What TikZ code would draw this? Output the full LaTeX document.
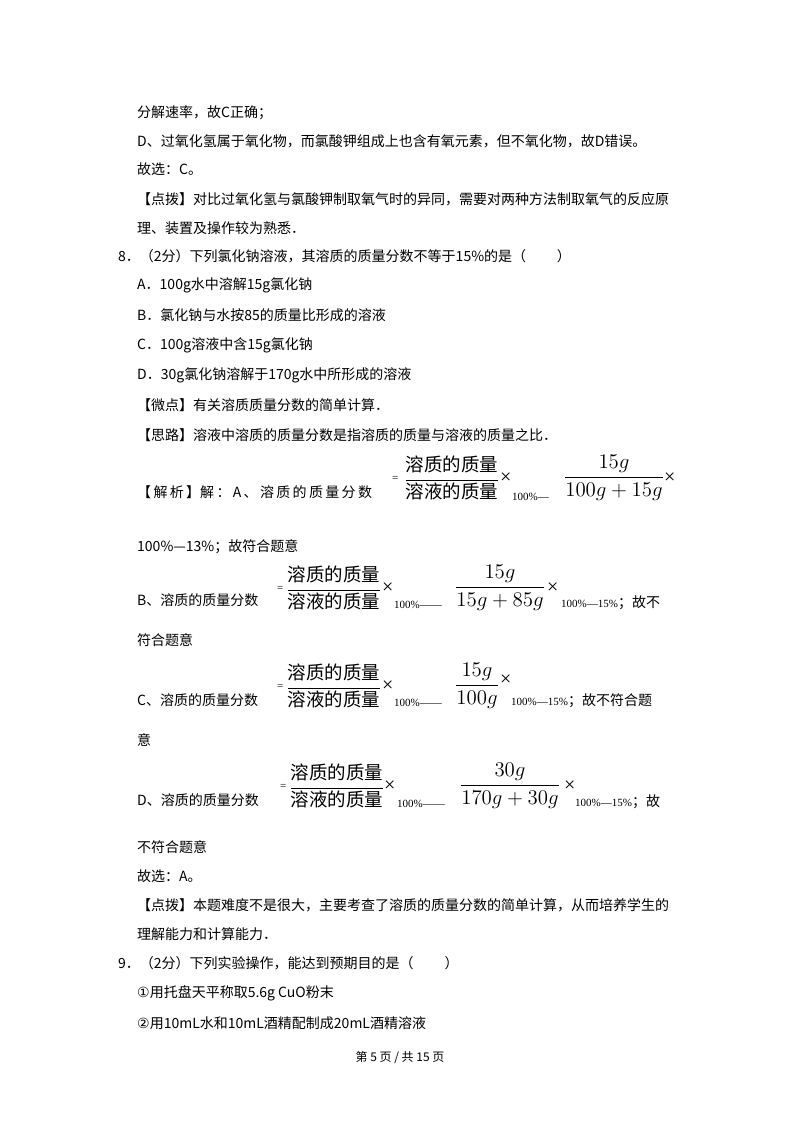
\documentclass[tikz,border=0pt]{standalone}
\usepackage{amsmath}
\usepackage{graphicx}
\usepackage{fontspec}
\setmainfont{Liberation Serif}
\newfontfamily\cjk{Noto Sans CJK SC}
\begin{document}
\begin{tikzpicture}[x=1pt,y=-1pt,
  t/.style={anchor=west,inner sep=0pt,font=\fontsize{14}{16}\selectfont\cjk},
  fr/.style={inner sep=0pt,font=\fontsize{14}{16}\selectfont},
  sm/.style={anchor=west,inner sep=0pt,font=\fontsize{11}{12}\selectfont},
  tm/.style={anchor=west,inner sep=0pt,font=\fontsize{20}{22}\selectfont}]
\useasboundingbox[fill=white] (0,0) rectangle (800,1132);
\newcommand{\fq}{\scalebox{1.32}{$\dfrac{\hbox{\cjk 溶质的质量}}{\hbox{\cjk 溶液的质量}}$}}
\newcommand{\fg}[2]{\scalebox{1.45}{$\dfrac{#1}{#2}$}}
\newcommand{\cjsemi}{{\cjk\fontsize{14}{16}\selectfont ；}}
\node[t] (l1) at (137,113) {分解速率，故C正确；};
\node[t] (l2) at (137,141) {D、过氧化氢属于氧化物，而氯酸钾组成上也含有氧元素，但不氧化物，故D错误。};
\node[t] (l3) at (137,169) {故选：C。};
\node[t] (l4) at (137,199) {【点拨】对比过氧化氢与氯酸钾制取氧气时的异同，需要对两种方法制取氧气的反应原};
\node[t] (l5) at (137,228) {理、装置及操作较为熟悉．};
\node[t] (q8) at (118,256) {8．（2分）下列氯化钠溶液，其溶质的质量分数不等于15\%的是（\hspace{2.2em}）};
\node[t] (a) at (137,285) {A．100g水中溶解15g氯化钠};
\node[t] (b) at (137,315) {B．氯化钠与水按85的质量比形成的溶液};
\node[t] (c) at (137,345) {C．100g溶液中含15g氯化钠};
\node[t] (d) at (137,375) {D．30g氯化钠溶解于170g水中所形成的溶液};
\node[t] (w) at (137,405) {【微点】有关溶质质量分数的简单计算．};
\node[t] (s) at (137,435) {【思路】溶液中溶质的质量分数是指溶质的质量与溶液的质量之比．};
% A
\node[t] (ja) at (137,492) {【\,解\,析\,】解\,：\,A\,、\,溶\,质\,的\,质\,量\,分\,数};
\node[sm] (ea) at (392,479) {=};
\node[fr] (fa1) at (452,478) {\fq};
\node[tm] (xa1) at (500,478) {×};
\node[sm] (pa) at (512,497) {100\%—};
\node[fr] (fa2) at (614,478) {\fg{15g}{100g+15g}};
\node[tm] (xa2) at (664,478) {×};
\node[t] (ra) at (137,547) {100\%—13\%；故符合题意};
% B
\node[t] (lb) at (137,600) {B、溶质的质量分数};
\node[sm] (eb) at (277,589) {=};
\node[fr] (fb1) at (334,588) {\fq};
\node[tm] (xb1) at (382,588) {×};
\node[sm] (pb) at (394,605) {100\%——};
\node[fr] (fb2) at (500,588) {\fg{15g}{15g+85g}};
\node[tm] (xb2) at (547,588) {×};
\node[sm] (rb2) at (561,603) {100\%—15\%\cjsemi\cjk\fontsize{14}{16}\selectfont 故不};
\node[t] (rb3) at (137,640) {符合题意};
% C
\node[t] (lc) at (137,700) {C、溶质的质量分数};
\node[sm] (ec) at (277,687) {=};
\node[fr] (fc1) at (334,686) {\fq};
\node[tm] (xc1) at (382,686) {×};
\node[sm] (pc) at (394,703) {100\%——};
\node[fr] (fc2) at (477,686) {\fg{15g}{100g}};
\node[tm] (xc2) at (500,680) {×};
\node[sm] (rc) at (511,701) {100\%—15\%\cjsemi\cjk\fontsize{14}{16}\selectfont 故不符合题};
\node[t] (rc2) at (137,740) {意};
% D
\node[t] (ld) at (137,800) {D、溶质的质量分数};
\node[sm] (ed) at (280,787) {=};
\node[fr] (fd1) at (337,786) {\fq};
\node[tm] (xd1) at (384,786) {×};
\node[sm] (pd) at (397,804) {100\%——};
\node[fr] (fd2) at (510,786) {\fg{30g}{170g+30g}};
\node[tm] (xd2) at (564,786) {×};
\node[sm] (rd) at (575,802) {100\%—15\%\cjsemi\cjk\fontsize{14}{16}\selectfont 故};
\node[t] (rd2) at (137,847) {不符合题意};
\node[t] (g) at (137,876) {故选：A。};
\node[t] (p1) at (137,905) {【点拨】本题难度不是很大，主要考查了溶质的质量分数的简单计算，从而培养学生的};
\node[t] (p2) at (137,934) {理解能力和计算能力．};
\node[t] (q9) at (118,963) {9．（2分）下列实验操作，能达到预期目的是（\hspace{2.2em}）};
\node[t] (o1) at (137,993) {{\fontspec{DejaVu Sans}①}用托盘天平称取5.6g CuO粉末};
\node[t] (o2) at (137,1023) {{\fontspec{DejaVu Sans}②}用10mL水和10mL酒精配制成20mL酒精溶液};
\node[inner sep=0pt,font=\fontsize{12}{14}\selectfont\cjk] (ft) at (400,1057) {第 5 页 / 共 15 页};
\end{tikzpicture}
\end{document}
